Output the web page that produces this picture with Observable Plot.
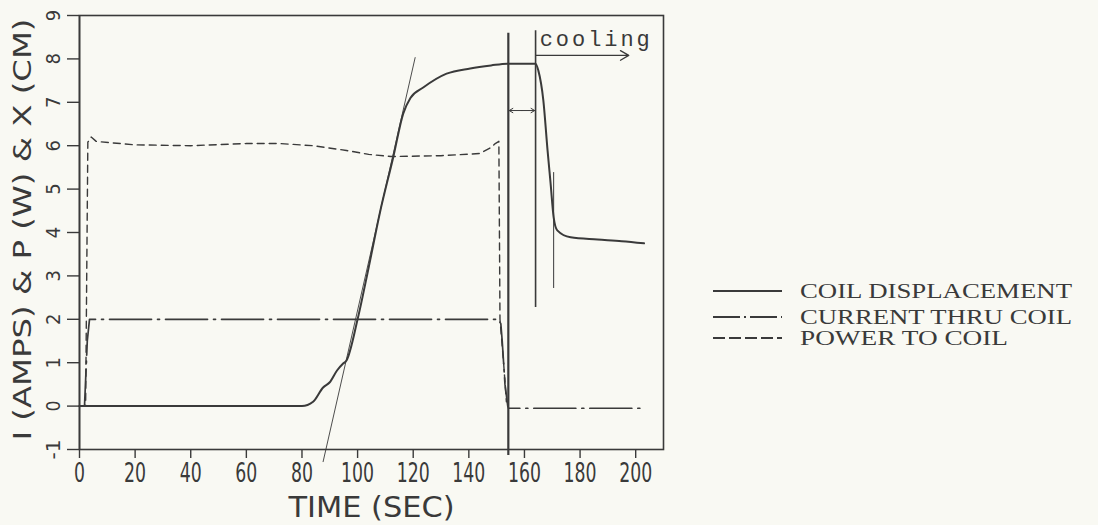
<!DOCTYPE html>
<html>
<head>
<meta charset="utf-8">
<script src="https://cdn.jsdelivr.net/npm/d3@7"></script>
<script src="https://cdn.jsdelivr.net/npm/@observablehq/plot@0.6"></script>
<style>
  html, body { margin: 0; padding: 0; background: #f9f9f3; }
  #wrap { position: relative; width: 1098px; height: 525px; overflow: hidden; }
  #legend { position: absolute; left: 700px; top: 276px; }
  #legend text { font-family: "Liberation Serif", "DejaVu Serif", serif; font-size: 20px; fill: #3a3a3a; }
</style>
</head>
<body>
<div id="wrap"></div>
<script>
// ---- data ----
const xTicks = [0, 20, 40, 60, 80, 100, 120, 140, 160, 180, 200];
const yTicks = [-1, 0, 1, 2, 3, 4, 5, 6, 7, 8, 9];

// coil displacement X (cm)
const dispT = [0, 80, 84, 87.6, 90, 92.6, 94.8, 96, 100, 104, 108, 112.8, 116.4, 119, 123.6, 132, 140.5, 148, 153.8, 164, 165, 166.8, 168.3, 169.4, 170.5, 171.8, 176.6, 186.3, 195, 203];
const dispV = [0, 0, 0.1, 0.43, 0.55, 0.82, 0.98, 1.05, 2.0, 3.2, 4.45, 5.73, 6.74, 7.1, 7.34, 7.66, 7.78, 7.85, 7.89, 7.89, 7.73, 7.04, 5.9, 5.13, 4.35, 4.05, 3.89, 3.84, 3.8, 3.75];

// current through coil I (amps)
const currT = [0, 1.8, 2.8, 3.6, 20, 60, 100, 140, 150.5, 151.5, 152, 152.5, 153, 154, 154.3, 203];
const currV = [0, 0, 1.5, 2.0, 2.0, 2.0, 2.0, 2.0, 2.0, 1.9, 1.5, 1.0, 0.5, 0.0, -0.05, -0.05];

// power to coil P (W)
const powT = [0, 2.2, 3.0, 4.2, 6, 11, 20, 40, 60, 72, 84, 96, 104, 112, 130, 144, 148, 149.5, 150.8, 151.2, 152.5, 153.5];
const powV = [0, 0, 6.08, 6.2, 6.1, 6.07, 6.02, 6.0, 6.05, 6.05, 6.0, 5.89, 5.8, 5.75, 5.77, 5.82, 5.96, 6.05, 6.1, 2.0, 1.0, 0.1];

// annotations
const tangentT = [87.6, 120.7];
const tangentV = [-1.28, 8.03];
const markT = [154.2, 164, 170.5];
const markTop = [8.59, 8.65, 5.38];
const markBottom = [-1.14, 2.27, 2.71];
const gapT = [154.2, 164];
const gapY = 6.81;
const coolT = [164, 197.5];
const coolY = 8.08;
const coolLabel = "cooling";
const coolLabelT = 165.5;
const coolLabelY = 8.3;

const xLabel = "TIME (SEC)";
const yLabel = "I (AMPS) & P (W) & X (CM)";
const legendItems = ["COIL DISPLACEMENT", "CURRENT THRU COIL", "POWER TO COIL"];

// ---- build tables ----
const disp = dispT.map((t, i) => ({t, v: dispV[i]}));
const curr = currT.map((t, i) => ({t, v: currV[i]}));
const pow = powT.map((t, i) => ({t, v: powV[i]}));
const tangent = tangentT.map((t, i) => ({t, v: tangentV[i]}));
const marks = markT.map((t, i) => ({t, y1: markTop[i], y2: markBottom[i]}));
const gapMid = (gapT[0] + gapT[1]) / 2;

const ink = "#3a3a3a";
const axisFont = "'Liberation Sans Narrow', 'DejaVu Sans Condensed', 'DejaVu Sans', sans-serif";
const mono = "'Liberation Mono', 'DejaVu Sans Mono', monospace";

const chart = Plot.plot({
  width: 1098,
  height: 525,
  marginLeft: 79,
  marginRight: 435,
  marginTop: 15,
  marginBottom: 76,
  style: {background: "transparent", color: ink, fontFamily: axisFont},
  x: {domain: [0, 210], ticks: xTicks, axis: null},
  y: {domain: [-1, 9], ticks: yTicks, axis: null},
  marks: [
    Plot.frame({stroke: ink, strokeWidth: 1.6}),
    // axis ticks
    Plot.axisY({ticks: yTicks, tickSize: 12, tickFormat: () => "", strokeWidth: 1.4, stroke: ink}),
    Plot.axisX({ticks: xTicks, tickSize: 9, tickFormat: () => "", strokeWidth: 1.4, stroke: ink}),
    Plot.ruleX([0], {y1: -1, y2: 9, stroke: ink, strokeWidth: 1.6}),
    // tick labels
    Plot.text(yTicks, {y: d => d, text: d => String(d), frameAnchor: "left", textAnchor: "middle", lineAnchor: "middle", dx: -26, rotate: -90, fontSize: 20, fill: ink}),
    Plot.text(xTicks, {x: d => d, text: d => String(d), frameAnchor: "bottom", textAnchor: "middle", lineAnchor: "middle", dy: 24, fontSize: 26, fill: ink}),
    // axis titles
    Plot.text([xLabel], {frameAnchor: "bottom", textAnchor: "middle", lineAnchor: "middle", dy: 58, fontSize: 29, fill: ink}),
    Plot.text([yLabel], {frameAnchor: "left", textAnchor: "middle", lineAnchor: "middle", dx: -57, dy: -3, rotate: -90, fontSize: 25, fill: ink}),
    // series
    Plot.line(pow, {x: "t", y: "v", stroke: ink, strokeWidth: 1.4, strokeDasharray: "7,5"}),
    Plot.line(curr, {x: "t", y: "v", stroke: ink, strokeWidth: 1.7, strokeDasharray: "42,6,2,6"}),
    Plot.line(disp, {x: "t", y: "v", stroke: ink, strokeWidth: 2, curve: "monotone-x"}),
    // annotations
    Plot.line(tangent, {x: "t", y: "v", stroke: ink, strokeWidth: 0.9}),
    Plot.ruleX(marks, {x: "t", y1: "y1", y2: "y2", stroke: ink, strokeWidth: (d, i) => i === 0 ? 2.2 : (i === 1 ? 1.6 : 1)}),
    Plot.arrow([{x1: gapMid, x2: gapT[0] + 0.3}, {x1: gapMid, x2: gapT[1] - 0.3}], {x1: "x1", x2: "x2", y1: gapY, y2: gapY, stroke: ink, strokeWidth: 1, headLength: 7}),
    Plot.arrow([{x1: coolT[0], x2: coolT[1]}], {x1: "x1", x2: "x2", y1: coolY, y2: coolY, stroke: ink, strokeWidth: 1.3, headLength: 11}),
    Plot.text([coolLabel], {x: coolLabelT, y: coolLabelY, textAnchor: "start", lineAnchor: "bottom", fontSize: 22, fill: ink, fontFamily: mono})
  ]
});

// fit texts to the reference's widths (narrow plotter-style lettering)
const allText = d3.select(chart).selectAll("text");
const fitText = (match, length, adjust) => {
  allText.filter(function () { return match(this.textContent); })
    .attr("textLength", function () { return typeof length === "function" ? length(this.textContent) : length; })
    .attr("lengthAdjust", adjust);
};
const xTickStr = xTicks.map(String);
fitText(s => xTickStr.includes(s), s => s.length * 11, "spacingAndGlyphs");
fitText(s => s === "-1", 20, "spacingAndGlyphs");
fitText(s => s === xLabel, 166, "spacingAndGlyphs");
fitText(s => s === yLabel, 422, "spacingAndGlyphs");
fitText(s => s === coolLabel, 110, "spacing");

document.getElementById("wrap").appendChild(chart);

// ---- legend ----
const dashes = [null, "27,4,2,4", "12,4"];
const leg = d3.select("#wrap").append("svg").attr("id", "legend").attr("width", 398).attr("height", 80);
const rowY = [15, 41, 62];
legendItems.forEach((label, i) => {
  leg.append("line").attr("x1", 13).attr("x2", 82).attr("y1", rowY[i]).attr("y2", rowY[i])
    .attr("stroke", ink).attr("stroke-width", i === 0 ? 2 : 1.8)
    .attr("stroke-dasharray", dashes[i]);
  leg.append("text").attr("x", 100).attr("y", rowY[i]).attr("dy", "0.35em")
    .attr("textLength", label.length * 16).attr("lengthAdjust", "spacingAndGlyphs").text(label);
});
</script>
</body>
</html>
